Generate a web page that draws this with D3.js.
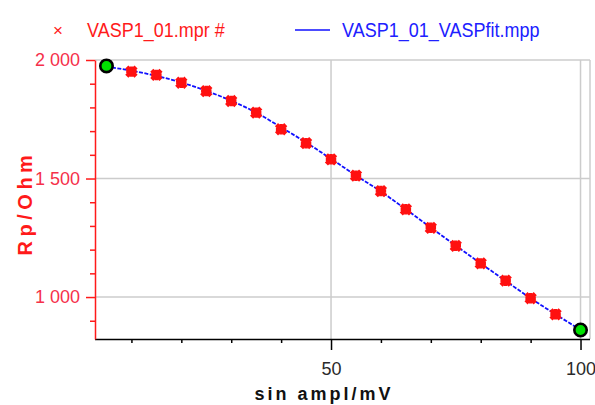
<!DOCTYPE html>
<html>
<head>
<meta charset="utf-8">
<script src="https://cdn.jsdelivr.net/npm/d3@7"></script>
<style>
  html, body { margin: 0; padding: 0; background: #fff; }
  svg { display: block; }
</style>
</head>
<body>
<svg id="chart" width="595" height="405"></svg>
<script>
// ---- data ----
const amplitudes = [5, 10, 15, 20, 25, 30, 35, 40, 45, 50, 55, 60, 65, 70, 75, 80, 85, 90, 95, 100];
const rpMeasured = [1975, 1951, 1937, 1904, 1869, 1827, 1778, 1708, 1649, 1581, 1512, 1447, 1370, 1292, 1216, 1142, 1069, 995, 927, 861];
const rpFit      = [1972, 1955, 1933, 1905, 1870, 1828, 1778, 1716, 1652, 1583, 1513, 1445, 1370, 1293, 1217, 1142, 1068, 995, 927, 862];
const highlighted = [5, 100];
const yMajorTicks = [1000, 1500, 2000];
const yMinorTicks = [900, 1100, 1200, 1300, 1400, 1600, 1700, 1800, 1900];
const xMajorTicks = [50, 100];
const xMinorTicks = [10, 20, 30, 40, 60, 70, 80, 90];
const seriesNames = ["VASP1_01.mpr #", "VASP1_01_VASPfit.mpp"];
const axisTitles = { x: "sin ampl/mV", y: "Rp/Ohm" };

// ---- layout ----
const svg = d3.select("#chart");
const L = 95, R = 590, T = 60, B = 339;
const x = d3.scaleLinear().domain([2.7, 101.9]).range([L, R]);
const y = d3.scaleLinear().domain([823, 2000]).range([B, T]);
const font = "'Liberation Sans', Arial, sans-serif";
const red = "#ff1a1a";
const fmt = d => d3.format(",")(d).replace(",", " ");

// gridlines
const grid = svg.append("g").attr("stroke", "#cccccc").attr("stroke-width", 1.5);
grid.selectAll("line.h").data(yMajorTicks).join("line")
  .attr("x1", L).attr("x2", R).attr("y1", d => y(d)).attr("y2", d => y(d));
grid.selectAll("line.v").data(xMajorTicks).join("line")
  .attr("x1", d => x(d)).attr("x2", d => x(d)).attr("y1", T).attr("y2", B);
grid.append("line").attr("x1", R).attr("x2", R).attr("y1", T).attr("y2", B);

// x axis
const xAxisG = svg.append("g").attr("transform", `translate(0,${B})`)
  .call(d3.axisBottom(x).tickValues(xMajorTicks).tickSize(11).tickPadding(12).tickSizeOuter(0));
svg.append("g").attr("transform", `translate(0,${B})`)
  .call(d3.axisBottom(x).tickValues(xMinorTicks).tickSize(4).tickFormat("").tickSizeOuter(0))
  .call(g => g.select(".domain").remove());
xAxisG.select(".domain").attr("stroke", "#000").attr("stroke-width", 1.5).attr("d", `M${L},0.5H${R}`);
svg.selectAll("g.tick line").attr("stroke", "#000").attr("stroke-width", 1.5);
xAxisG.selectAll("text").attr("font-family", font).attr("font-size", 18).attr("fill", "#2a2a2a");

// y axis
const yAxisG = svg.append("g").attr("transform", `translate(${L},0)`)
  .call(d3.axisLeft(y).tickValues(yMajorTicks).tickSize(9).tickPadding(6).tickFormat(fmt).tickSizeOuter(0));
const yMinorG = svg.append("g").attr("transform", `translate(${L},0)`)
  .call(d3.axisLeft(y).tickValues(yMinorTicks).tickSize(5).tickFormat("").tickSizeOuter(0));
yMinorG.select(".domain").remove();
yAxisG.select(".domain").attr("stroke", red).attr("stroke-width", 1.5);
yAxisG.selectAll(".tick line").attr("stroke", red).attr("stroke-width", 1.5);
yMinorG.selectAll(".tick line").attr("stroke", red).attr("stroke-width", 1.5);
yAxisG.selectAll("text").attr("font-family", font).attr("font-size", 18).attr("fill", "#f5304a");

// axis titles
svg.append("text").attr("x", 324).attr("y", 400).attr("text-anchor", "middle")
  .attr("font-family", font).attr("font-weight", "bold").attr("font-size", 18)
  .attr("letter-spacing", 3).attr("fill", "#111").text(axisTitles.x);
svg.append("text").attr("transform", "translate(32,203) rotate(-90)").attr("text-anchor", "middle")
  .attr("font-family", font).attr("font-weight", "bold").attr("font-size", 20)
  .attr("letter-spacing", 4.5).attr("fill", red).text(axisTitles.y);

// fit line
const line = d3.line().x((d, i) => x(amplitudes[i])).y(d => y(d)).curve(d3.curveMonotoneX);
svg.append("path").datum(rpFit).attr("d", line).attr("fill", "none")
  .attr("stroke", "#1010ff").attr("stroke-width", 1.8).attr("stroke-dasharray", "4,1.5");

// measured markers (thick cross blobs)
const cross = d3.symbol().type(d3.symbolCross).size(95);
const markers = svg.append("g").selectAll("g").data(amplitudes).join("g")
  .attr("transform", (d, i) => `translate(${x(d)},${y(rpMeasured[i])})`);
markers.append("path").attr("d", cross).attr("transform", "rotate(45)").attr("fill", "#ff1010");
markers.append("path").attr("d", cross).attr("transform", "scale(0.8)").attr("fill", "#ff1010");

// highlighted points
svg.append("g").selectAll("circle").data(highlighted).join("circle")
  .attr("cx", d => x(d)).attr("cy", d => y(rpMeasured[amplitudes.indexOf(d)]))
  .attr("r", 6.2).attr("fill", "#00e000").attr("stroke", "#000").attr("stroke-width", 2.6);

// legend
svg.append("text").attr("x", 58).attr("y", 36).attr("text-anchor", "middle")
  .attr("font-family", font).attr("font-size", 17).attr("fill", red).text("×");
svg.append("text").attr("transform", "translate(87,37) scale(1,1.12)").attr("font-family", font).attr("font-size", 18)
  .attr("fill", red).text(seriesNames[0]);
svg.append("line").attr("x1", 295).attr("x2", 330).attr("y1", 30).attr("y2", 30)
  .attr("stroke", "#1010ff").attr("stroke-width", 1.5);
svg.append("text").attr("transform", "translate(342,37) scale(1,1.12)").attr("font-family", font).attr("font-size", 18)
  .attr("fill", "#2020ff").text(seriesNames[1]);
</script>
</body>
</html>
